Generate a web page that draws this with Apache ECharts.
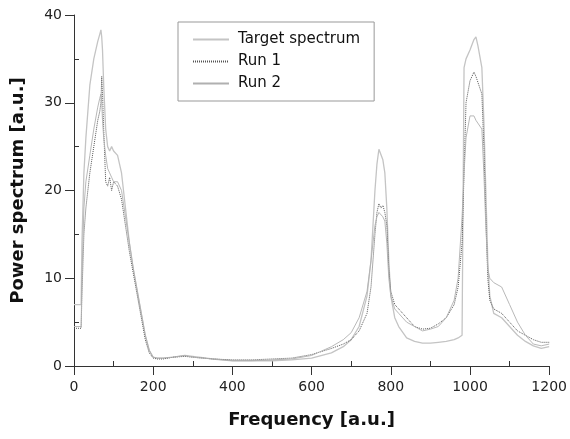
<!DOCTYPE html>
<html><head><meta charset="utf-8">
<script src="https://cdn.jsdelivr.net/npm/echarts@6/dist/echarts.min.js"></script>
<style>html,body{margin:0;padding:0;background:#fff}#c{width:570px;height:439px}</style>
</head><body><div id="c"></div>
<script>
const freq = [0,18,20,25,30,40,50,60,65,68,70,72,75,80,85,90,95,100,110,120,130,140,150,160,170,180,190,200,210,225,250,280,300,350,400,450,500,550,600,650,680,700,720,740,750,760,765,770,775,780,785,790,795,800,810,820,840,860,880,900,920,940,960,970,980,985,990,1000,1010,1015,1020,1030,1035,1040,1045,1050,1060,1080,1100,1120,1140,1160,1180,1200];
const target = [7,7,14,22,26,32,35,37,37.8,38.3,37.5,36,32,27,25,24.5,25,24.5,24,22,18,14,11,8.5,6,3.5,1.8,1.0,0.9,0.9,1.0,1.2,1.1,0.8,0.6,0.6,0.6,0.7,0.9,1.5,2.2,3.0,4.5,8,12,20,23,24.7,24.5,23.5,22,18,12,8,5.5,4.5,3.2,2.8,2.6,2.6,2.7,2.8,3.0,3.2,3.5,34,35,36,37.2,37.5,36.5,34,28,20,12,8,6,5.5,4.5,3.5,2.8,2.3,2.0,2.2];
const run1 = [4.3,4.3,8,15,18,22,25,28,29,30,33,31,27,21,20.5,21.5,20,21,20.5,19,16,13,10.5,8,5.5,3,1.5,0.9,0.8,0.8,1.0,1.1,1.0,0.8,0.7,0.7,0.8,0.9,1.3,2.0,2.5,3.0,4.0,6,9,15,17.5,18.5,18,18.3,17.5,16,11,8.5,7,6.5,5.5,4.5,4.2,4.3,4.8,5.5,7.0,9,14,22,30,32.5,33.5,33,33,31,25,17,10,7.5,6.5,6,5,4,3.5,3,2.7,2.7];
const run2 = [4.5,4.5,10,18,21,24,27,29.5,30.5,31,30,28,26,24,22.5,22,21.5,21,21,20,17,14,11,8.5,6,3.5,1.8,1.0,0.9,0.9,1.0,1.2,1.0,0.8,0.6,0.6,0.7,0.8,1.2,2.2,3.0,3.8,5.5,8.5,12,16,17,17.5,17.3,17,16.5,14,10,8,6.5,6,5,4.5,4.0,4.2,4.5,5.5,7.5,10,17,22,26,28.5,28.5,28,28,27,22,16,11,10,9.5,9,7,5,3.5,2.5,2.3,2.5];
const xTicks = [0,200,400,600,800,1000,1200];
const yTicks = [0,10,20,30,40];

const zip = (ys) => freq.map((f,i)=>[f, ys[i]]);
const chart = echarts.init(document.getElementById('c'));
const axisTxt = {color:'#222', fontSize:14, fontFamily:'DejaVu Sans', formatter:(v)=>String(v)};
chart.setOption({
  animation:false,
  grid:{left:74,right:18,top:15,bottom:73},
  legend:{
    orient:'vertical', left:178, top:22, padding:[10,14,10,14],
    borderColor:'#999', borderWidth:1, itemWidth:36, itemHeight:12, itemGap:7,
    itemStyle:{color:'rgba(0,0,0,0)', borderWidth:0},
    textStyle:{fontSize:15, fontFamily:'DejaVu Sans', color:'#111', padding:[0,0,0,4]},
    data:['Target spectrum','Run 1','Run 2']
  },
  xAxis:{
    type:'value', min:0, max:1200, interval:200,
    name:'Frequency [a.u.]', nameLocation:'middle', nameGap:45,
    nameTextStyle:{fontSize:18, fontWeight:'bold', fontFamily:'DejaVu Sans', color:'#111'},
    axisLine:{lineStyle:{color:'#333'}},
    axisTick:{inside:false, length:9, lineStyle:{color:'#333'}},
    minorTick:{show:true, splitNumber:2, length:-5, lineStyle:{color:'#333'}},
    splitLine:{show:false},
    axisLabel:Object.assign({margin:14},axisTxt)
  },
  yAxis:{
    type:'value', min:0, max:40, interval:10,
    name:'Power spectrum [a.u.]', nameLocation:'middle', nameGap:47,
    nameTextStyle:{fontSize:18, fontWeight:'bold', fontFamily:'DejaVu Sans', color:'#111'},
    axisLine:{show:true, lineStyle:{color:'#333'}},
    axisTick:{show:true, inside:false, length:9, lineStyle:{color:'#333'}},
    minorTick:{show:true, splitNumber:2, length:-5, lineStyle:{color:'#333'}},
    splitLine:{show:false},
    axisLabel:Object.assign({margin:12},axisTxt)
  },
  series:[
    {name:'Target spectrum', type:'line', showSymbol:false, symbol:'none', data:zip(target),
     lineStyle:{color:'#c4c4c4', width:1.3}, itemStyle:{color:'#c4c4c4'}},
    {name:'Run 1', type:'line', showSymbol:false, symbol:'none', data:zip(run1),
     lineStyle:{color:'#555', width:1, type:[1,1]}, itemStyle:{color:'#555'}},
    {name:'Run 2', type:'line', showSymbol:false, symbol:'none', data:zip(run2),
     lineStyle:{color:'#b0b0b0', width:0.9}, itemStyle:{color:'#b0b0b0'}}
  ]
});
</script></body></html>
